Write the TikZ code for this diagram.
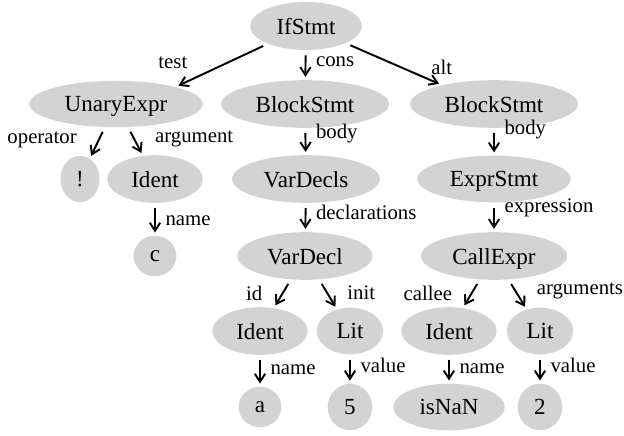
\documentclass[tikz,border=0pt]{standalone}
\usepackage{fontspec}
\setmainfont{Liberation Serif}
\usetikzlibrary{shapes.geometric,arrows.meta}
\definecolor{astgray}{RGB}{211,211,211}

\begin{document}
\begin{tikzpicture}[x=0.52pt,y=-0.52pt,
  ast/.style={ellipse,fill=astgray,inner xsep=5.2pt,inner ysep=4.6pt,text depth=0pt,font=\fontsize{12}{14}\selectfont},
  link/.style={line width=1pt,-{Straight Barb[length=4.2pt,width=5.4pt]},shorten <=2.6pt,shorten >=1.5pt},
  lbl/.style={font=\fontsize{10.8}{13}\selectfont,inner sep=0pt},
  rlbl/.style={lbl,anchor=base west,xshift=5pt}]
\useasboundingbox (0,0) rectangle (624,435);

\node[ast] (ifstmt) at (306,26) {IfStmt};
\node[ast] (unary) at (116,104) {UnaryExpr};
\node[ast] (blockA) at (305,104) {BlockStmt};
\node[ast] (blockB) at (494,104) {BlockStmt};
\node[ast] (bang) at (80,179) {!};
\node[ast] (identC) at (155,179) {Ident};
\node[ast] (vardecls) at (306,179) {VarDecls};
\node[ast] (exprstmt) at (494,179) {ExprStmt};
\node[ast] (valC) at (155,256) {c};
\node[ast] (vardecl) at (305,256) {VarDecl};
\node[ast] (callexpr) at (494,256) {CallExpr};
\node[ast] (identA) at (260,331) {Ident};
\node[ast] (litF) at (350,331) {Lit};
\node[ast] (identN) at (449,331) {Ident};
\node[ast] (litT) at (540,331) {Lit};
\node[ast] (valA) at (260,407) {a};
\node[ast] (valF) at (350,407) {5};
\node[ast] (valN) at (449,407) {isNaN};
\node[ast] (valT) at (540,407) {2};

\draw[link] (ifstmt) -- node[lbl,pos=1,above=9pt,xshift=-1.5pt]{test} (unary.16);
\draw[link] (ifstmt) -- node[rlbl,yshift=-0.8pt]{cons} (blockA);
\draw[link] (ifstmt) -- node[lbl,pos=1,above=5pt]{alt} (blockB.160);
\draw[link] (unary) -- node[lbl,pos=0.4,left=11pt]{operator} (bang);
\draw[link] (unary) -- node[lbl,pos=0.4,right=10.5pt]{argument} (identC);
\draw[link] (blockA) -- node[rlbl,yshift=1.8pt]{body} (vardecls);
\draw[link] (blockB) -- node[rlbl,yshift=3.9pt]{body} (exprstmt);
\draw[link] (identC) -- node[rlbl,yshift=-3pt]{name} (valC);
\draw[link] (vardecls) -- node[rlbl,yshift=-1pt]{declarations} (vardecl);
\draw[link] (exprstmt) -- node[rlbl,yshift=2.6pt]{expression} (callexpr);
\draw[link] (vardecl) -- node[lbl,left=10pt]{id} (identA);
\draw[link] (vardecl) -- node[lbl,pos=0.45,right=10pt]{init} (litF);
\draw[link] (callexpr) -- node[lbl,left=9.5pt]{callee} (identN);
\draw[link] (callexpr) -- node[lbl,right=9.5pt,yshift=2pt]{arguments} (litT);
\draw[link] (identA) -- node[rlbl,yshift=-2pt]{name} (valA);
\draw[link] (litF) -- node[rlbl,yshift=-2pt]{value} (valF);
\draw[link] (identN) -- node[rlbl,yshift=-2pt]{name} (valN);
\draw[link] (litT) -- node[rlbl,yshift=-2pt]{value} (valT);
\end{tikzpicture}
\end{document}
